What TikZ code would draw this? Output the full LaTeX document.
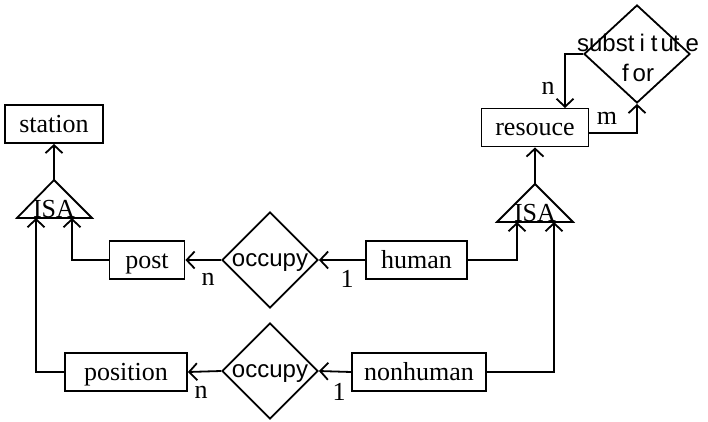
\documentclass[tikz,border=0pt]{standalone}
\usepackage{fontspec}
\setmainfont{Liberation Serif}
\newfontfamily\arialfont{Liberation Sans}
\usetikzlibrary{arrows.meta,shapes.geometric}
\begin{document}
\begin{tikzpicture}[x=1pt,y=-1pt,line width=1.8pt,
	arr/.style={-{Straight Barb[length=8pt,width=17pt]}},
	entity/.style={draw,minimum height=38pt,inner xsep=4pt,text height=20pt,text depth=4pt,font=\fontsize{26}{30}\selectfont},
	relation/.style={draw,diamond,inner sep=0pt,minimum width=96pt,minimum height=96pt,text height=12.5pt,text depth=0pt,font=\arialfont\fontsize{24}{28}\selectfont},
	card/.style={font=\fontsize{26}{30}\selectfont}]
	\useasboundingbox (0,0) rectangle (708,422);
	% entities
	\node[entity,minimum width=98pt] (station) at (54,124) {station};
	\node[entity,minimum width=75pt] (post) at (147,260) {post};
	\node[entity,minimum width=122pt] (position) at (126,372) {position};
	\node[entity,minimum width=101pt] (human) at (416.5,260) {human};
	\node[entity,minimum width=134pt] (nonhuman) at (419,372) {nonhuman};
	\node[entity,minimum width=107pt] (resouce) at (535,127.5) {resouce};
	% relationships
	\node[relation] (occ1) at (270,260) {occupy};
	\node[relation] (occ2) at (270,371) {occupy};
	\node[draw,diamond,inner sep=0pt,minimum width=106pt,minimum height=98pt] (subst) at (637,54) {};
	\node[align=center,font=\arialfont\fontsize{24}{30}\selectfont] (substtext) at (638,58)
		{subst\kern5pt i\kern6pt t\kern3pt u\kern-1pt t\kern6pt e\\f\kern4pt or};
	% ISA triangles
	\coordinate (isa1top) at (54,180);
	\coordinate (isa1l) at (36,218);
	\coordinate (isa1r) at (72,218);
	\draw (isa1top) -- (17,218) -- (92,218) -- cycle;
	\node[card,anchor=base] (isa1) at (54,217) {ISA};
	\coordinate (isa2top) at (535,184);
	\coordinate (isa2l) at (517,222);
	\coordinate (isa2r) at (554,222);
	\draw (isa2top) -- (497,222) -- (573,222) -- cycle;
	\node[card,anchor=base] (isa2) at (535,221) {ISA};
	% connectors
	\draw[arr] (isa1top) -- (station.south);
	\draw[arr] (position.west) -| (isa1l);
	\draw[arr] (post.west) -| (isa1r);
	\draw[arr] (occ1.west) -- (post.east);
	\draw[arr] (human.west) -- (occ1.east);
	\draw[arr] (occ2.west) -- (position.east);
	\draw[arr] (nonhuman.west) -- (occ2.east);
	\draw[arr] (human.east) -| (isa2l);
	\draw[arr] (nonhuman.east) -| (isa2r);
	\draw[arr] (isa2top) -- (resouce.south);
	\coordinate (nin) at (565,108);
	\draw[arr] (subst.west) -| (nin);
	\draw[arr] ([yshift=-5.5pt]resouce.east) -| (subst.south);
	% cardinalities
	\node[card] (c1) at (208,279) {n};
	\node[card] (c2) at (347,279) {1};
	\node[card] (c3) at (201,392) {n};
	\node[card] (c4) at (339,392) {1};
	\node[card] (c5) at (548,88) {n};
	\node[card] (c6) at (607,118) {m};
\end{tikzpicture}
\end{document}
